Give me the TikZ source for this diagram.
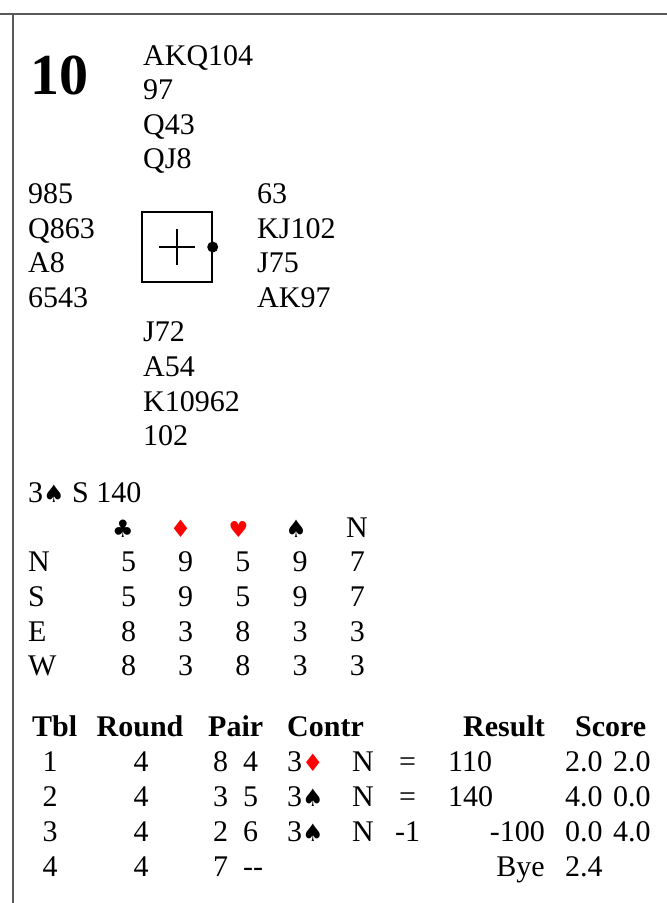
\documentclass[tikz,border=0pt]{standalone}
\usepackage{fontspec}
\setmainfont{Liberation Serif}
\newfontfamily\suitfont{DejaVu Sans}
\definecolor{suitred}{RGB}{255,0,0}
\newcommand{\spd}{{\suitfont\fontsize{24}{24}\selectfont ♠}}
\newcommand{\clb}{{\suitfont\fontsize{24}{24}\selectfont ♣}}
\newcommand{\dmd}{{\suitfont\fontsize{24}{24}\selectfont\textcolor{suitred}{♦}}}
\newcommand{\hrt}{{\suitfont\fontsize{22}{22}\selectfont\textcolor{suitred}{♥}}}

\begin{document}
\begin{tikzpicture}[x=1pt,y=-1pt,
    txt/.style={anchor=base west,inner sep=0pt,font=\fontsize{30}{35}\selectfont},
    ctr/.style={txt,anchor=base},
    rgt/.style={txt,anchor=base east},
    hdr/.style={txt,font=\fontsize{30}{35}\selectfont\bfseries},
    frame/.style={black!65,line width=1.3pt}]
    \useasboundingbox (0,0) rectangle (667,903);
    \draw[frame] (0,14) -- (667,14);
    \draw[frame] (13,14) -- (13,903);

    % board and hands
    \node[txt,font=\fontsize{58}{58}\selectfont\bfseries] (board) at (30,94) {10};
    \foreach \c [count=\i from 0] in {AKQ104,97,Q43,QJ8}
        \node[txt] (north\i) at (143,65+34.6*\i) {\c};
    \foreach \c [count=\i from 0] in {985,Q863,A8,6543}
        \node[txt] (west\i) at (28,203.4+34.6*\i) {\c};
    \foreach \c [count=\i from 0] in {63,KJ102,J75,AK97}
        \node[txt] (east\i) at (257,203.4+34.6*\i) {\c};
    \foreach \c [count=\i from 0] in {J72,A54,K10962,102}
        \node[txt] (south\i) at (143,341.8+34.6*\i) {\c};

    % compass box, dealer dot on east
    \node[draw,line width=1.4pt,minimum size=70pt,inner sep=0pt] (table) at (177,247) {};
    \draw[line width=1.1pt] ([xshift=-18pt]table.center) -- ([xshift=18pt]table.center);
    \draw[line width=1.1pt] ([yshift=-18pt]table.center) -- ([yshift=18pt]table.center);
    \fill (table.east) circle (5.5pt);

    % par and double dummy
    \node[txt] (par) at (28,502.7) {3\spd\ S 140};
    \foreach \s [count=\i from 0] in {\clb,\dmd,\hrt,\spd}
        \node[ctr] (suit\i) at (123+57.7*\i,537.3) {\s};
    \node[ctr] (suit4) at (357,537.3) {N};
    \foreach \p/\a/\b/\c/\d/\e [count=\r from 0] in {N/5/9/5/9/7,S/5/9/5/9/7,E/8/3/8/3/3,W/8/3/8/3/3} {
        \node[txt] (dd\p) at (28,571.9+34.6*\r) {\p};
        \foreach \v [count=\k from 0] in {\a,\b,\c,\d,\e}
            \node[ctr] (dd\p\k) at (128.5+57.2*\k,571.9+34.6*\r) {\v};
    }

    % travellers
    \node[hdr] (hTbl) at (32,736) {Tbl};
    \node[hdr] (hRound) at (96.5,736) {Round};
    \node[hdr] (hPair) at (208,736) {Pair};
    \node[hdr] (hContr) at (287,736) {Contr};
    \node[hdr] (hResult) at (463,736) {Result};
    \node[hdr] (hScore) at (575,736) {Score};
    \foreach \t/\ns/\ew [count=\r from 0] in {1/8/4,2/3/5,3/2/6,4/7/-{}-} {
        \node[ctr] (tbl\t) at (50,771+35*\r) {\t};
        \node[ctr] (rnd\t) at (141,771+35*\r) {4};
        \node[txt] (ns\t) at (213,771+35*\r) {\ns};
        \node[txt] (ew\t) at (243,771+35*\r) {\ew};
    }
    \node[txt] (con1) at (287,771) {3\dmd};
    \node[txt] (con2) at (287,806) {3\spd};
    \node[txt] (con3) at (287,841) {3\spd};
    \foreach \r in {1,2,3}
        \node[txt] (decl\r) at (352,736+35*\r) {N};
    \node[txt] (res1) at (399,771) {=};
    \node[txt] (res2) at (399,806) {=};
    \node[txt] (res3) at (395,841) {-1};
    \node[txt] (pts1) at (448,771) {110};
    \node[txt] (pts2) at (448,806) {140};
    \node[rgt] (pts3) at (545,841) {-100};
    \node[rgt] (pts4) at (545,876) {Bye};
    \foreach \a/\b [count=\r from 1] in {2.0/2.0,4.0/0.0,0.0/4.0} {
        \node[txt] (scns\r) at (565,736+35*\r) {\a};
        \node[txt] (scew\r) at (613,736+35*\r) {\b};
    }
    \node[txt] (scns4) at (565,876) {2.4};
\end{tikzpicture}
\end{document}
